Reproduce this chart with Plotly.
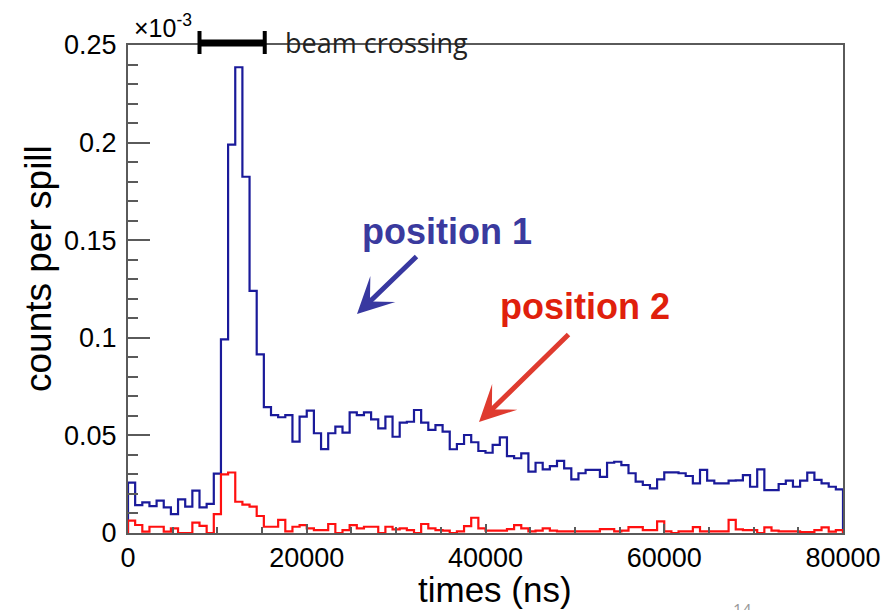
import numpy as np
import plotly.graph_objects as go

# ---- data (counts per spill, in units of 1e-3) ----
bin_width_ns = 800
n_bins = 100
x_min, x_max = 0, 80000
y_min, y_max = 0, 0.25

position1 = [
    0.0258, 0.0143, 0.0157, 0.0138, 0.0166, 0.0131, 0.0097, 0.0172, 0.0135, 0.0217,
    0.0131, 0.0149, 0.0304, 0.0992, 0.1990, 0.2386, 0.1825, 0.1240, 0.0915, 0.0645,
    0.0604, 0.0593, 0.0604, 0.0468, 0.0596, 0.0627, 0.0511, 0.0430, 0.0511, 0.0545,
    0.0514, 0.0618, 0.0604, 0.0618, 0.0582, 0.0536, 0.0596, 0.0493, 0.0565, 0.0570,
    0.0630, 0.0565, 0.0528, 0.0553, 0.0519, 0.0429, 0.0456, 0.0502, 0.0465, 0.0420,
    0.0411, 0.0451, 0.0490, 0.0394, 0.0383, 0.0408, 0.0314, 0.0360, 0.0326, 0.0343,
    0.0370, 0.0331, 0.0275, 0.0306, 0.0323, 0.0323, 0.0288, 0.0360, 0.0365, 0.0348,
    0.0306, 0.0263, 0.0246, 0.0229, 0.0275, 0.0311, 0.0311, 0.0306, 0.0292, 0.0254,
    0.0323, 0.0268, 0.0254, 0.0254, 0.0268, 0.0270, 0.0297, 0.0237, 0.0326, 0.0220,
    0.0220, 0.0251, 0.0268, 0.0237, 0.0268, 0.0309, 0.0272, 0.0254, 0.0237, 0.0224,
]

position2 = [
    0.0063, 0.0041, 0.0007, 0.0032, 0.0032, 0.0007, 0.0024, 0.0000, 0.0000, 0.0053,
    0.0036, 0.0000, 0.0097, 0.0300, 0.0310, 0.0160, 0.0145, 0.0135, 0.0087, 0.0032,
    0.0032, 0.0067, 0.0008, 0.0032, 0.0040, 0.0024, 0.0015, 0.0015, 0.0046, 0.0000,
    0.0015, 0.0040, 0.0024, 0.0032, 0.0032, 0.0000, 0.0032, 0.0019, 0.0024, 0.0015,
    0.0000, 0.0046, 0.0024, 0.0015, 0.0012, 0.0000, 0.0008, 0.0035, 0.0078, 0.0024,
    0.0012, 0.0012, 0.0012, 0.0020, 0.0040, 0.0024, 0.0008, 0.0012, 0.0024, 0.0012,
    0.0008, 0.0008, 0.0008, 0.0008, 0.0008, 0.0008, 0.0020, 0.0020, 0.0008, 0.0012,
    0.0030, 0.0030, 0.0015, 0.0015, 0.0060, 0.0008, 0.0000, 0.0008, 0.0008, 0.0030,
    0.0008, 0.0008, 0.0008, 0.0008, 0.0067, 0.0019, 0.0015, 0.0015, 0.0000, 0.0029,
    0.0012, 0.0008, 0.0008, 0.0008, 0.0004, 0.0004, 0.0015, 0.0029, 0.0007, 0.0015,
]

x_tick_vals = [0, 20000, 40000, 60000, 80000]
y_tick_vals = [0, 0.05, 0.1, 0.15, 0.2, 0.25]
beam_start, beam_end = 8000, 15300

x_title = "times (ns)"
y_title = "counts per spill"
label1 = "position 1"
label2 = "position 2"
beam_label = "beam crossing"

# ---- build step outlines ----
edges = np.arange(n_bins + 1) * bin_width_ns


def step_xy(vals):
    xs = [edges[0]] + list(edges[:-1]) + [edges[-1]]
    ys = [0] + list(vals) + [0]
    return xs, ys


W, H = 883, 610
ML, MR, MT, MB = 128, 40, 45, 77
PW, PH = W - ML - MR, H - MT - MB


def px_x(px):
    return (px - ML) / PW


def px_y(py):
    return (H - MB - py) / PH


def data_to_paper_x(v):
    return (v - x_min) / (x_max - x_min)


fig = go.Figure()
bx, by = step_xy(position1)
fig.add_trace(go.Scatter(x=bx, y=by, mode="lines", line=dict(color="#1a1a9a", width=2.2, shape="hv"),
                         showlegend=False, hoverinfo="skip"))
rx, ry = step_xy(position2)
fig.add_trace(go.Scatter(x=rx, y=ry, mode="lines", line=dict(color="#ff1010", width=2.2, shape="hv"),
                         showlegend=False, hoverinfo="skip"))

font_main = "Liberation Sans, Arial, Helvetica, sans-serif"
frame = "#5a5a5a"

fig.update_layout(
    width=W, height=H,
    margin=dict(l=ML, r=MR, t=MT, b=MB, autoexpand=False),
    paper_bgcolor="white", plot_bgcolor="white",
    font=dict(family=font_main, color="black"),
    xaxis=dict(range=[x_min, x_max], tickvals=x_tick_vals, tickformat="d", automargin=False,
               ticks="inside", ticklen=9, tickwidth=1.5, tickcolor=frame,
               minor=dict(dtick=5000, ticks="inside", ticklen=6, tickcolor=frame, tickwidth=1.5),
               showline=True, linecolor=frame, linewidth=2, mirror=True,
               showgrid=False, zeroline=False,
               tickfont=dict(size=27, family=font_main, color="black"), ticklabelstandoff=0),
    yaxis=dict(range=[y_min, y_max], tickvals=y_tick_vals, automargin=False,
               ticks="inside", ticklen=22, tickwidth=1.5, tickcolor=frame,
               minor=dict(dtick=0.01, ticks="inside", ticklen=10, tickcolor=frame, tickwidth=1.5),
               showline=True, linecolor=frame, linewidth=2, mirror=True,
               showgrid=False, zeroline=False,
               tickfont=dict(size=27, family=font_main, color="black"), ticklabelstandoff=4),
)

ann = []
# axis titles
ann.append(dict(text=y_title, xref="paper", yref="paper", x=px_x(38), y=px_y(268),
                xanchor="center", yanchor="middle",
                textangle=-90, showarrow=False, font=dict(size=37, family=font_main, color="black")))
ann.append(dict(text=x_title, xref="paper", yref="paper", x=px_x(495), y=px_y(589),
                xanchor="center", yanchor="middle",
                showarrow=False, font=dict(size=35, family=font_main, color="black")))
# exponent
ann.append(dict(text="×10<sup>-3</sup>", xref="paper", yref="paper", x=px_x(132), y=px_y(26),
                xanchor="left", yanchor="middle", showarrow=False,
                font=dict(size=25, family=font_main, color="black")))
# labels
ann.append(dict(text="<b>%s</b>" % label1, xref="paper", yref="paper", x=px_x(447), y=px_y(231),
                xanchor="center", yanchor="middle",
                showarrow=False, font=dict(size=36, family=font_main, color="#3a3a9e")))
ann.append(dict(text="<b>%s</b>" % label2, xref="paper", yref="paper", x=px_x(585), y=px_y(306),
                xanchor="center", yanchor="middle",
                showarrow=False, font=dict(size=36, family=font_main, color="#e0200c")))
# arrows
ann.append(dict(text="", xref="paper", yref="paper", x=px_x(357), y=px_y(314),
                ax=61, ay=-59, showarrow=True, arrowhead=3, arrowsize=1.2, arrowwidth=5,
                arrowcolor="#3838a0"))
ann.append(dict(text="", xref="paper", yref="paper", x=px_x(479), y=px_y(422),
                ax=91, ay=-89, showarrow=True, arrowhead=3, arrowsize=1.2, arrowwidth=5,
                arrowcolor="#df3b2f"))
# beam crossing label
ann.append(dict(text=beam_label, xref="paper", yref="paper", x=px_x(283), y=px_y(42),
                xanchor="left", yanchor="middle", showarrow=False,
                font=dict(size=27, family="Open Sans, sans-serif", color="#222")))
# page number
ann.append(dict(text="14", xref="paper", yref="paper", x=px_x(742), y=px_y(597),
                xanchor="center", yanchor="top", showarrow=False,
                font=dict(size=16, family="Open Sans", color="#999")))
fig.update_layout(annotations=ann)

# beam crossing bar with caps
x0 = data_to_paper_x(beam_start)
x1 = data_to_paper_x(beam_end)
yb = px_y(43)
shapes = [
    dict(type="line", xref="paper", yref="paper", x0=x0, x1=x1, y0=yb, y1=yb,
         line=dict(color="black", width=7)),
    dict(type="line", xref="paper", yref="paper", x0=x0, x1=x0, y0=px_y(31), y1=px_y(54),
         line=dict(color="black", width=4)),
    dict(type="line", xref="paper", yref="paper", x0=x1, x1=x1, y0=px_y(31), y1=px_y(54),
         line=dict(color="black", width=4)),
]
fig.update_layout(shapes=shapes)

fig.write_html("out.html")
